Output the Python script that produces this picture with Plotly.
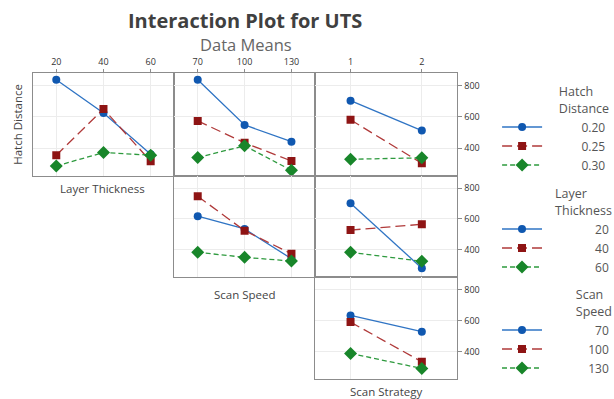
import plotly.graph_objects as go

# ---- data ----
layer_thickness = [20, 40, 60]
scan_speed = [70, 100, 130]
scan_strategy = [1, 2]

hatch_levels = ["0.20", "0.25", "0.30"]
layer_levels = ["20", "40", "60"]
speed_levels = ["70", "100", "130"]

# Row 1: Hatch Distance series
hd_vs_layer = [[837, 624, 361], [355, 650, 316], [286, 372, 355]]
hd_vs_speed = [[837, 548, 441], [574, 434, 318], [340, 415, 258]]
hd_vs_strategy = [[703, 512], [581, 303], [329, 338]]
# Row 2: Layer Thickness series
lt_vs_speed = [[618, 535, 341], [748, 524, 373], [383, 350, 326]]
lt_vs_strategy = [[703, 279], [528, 565], [383, 324]]
# Row 3: Scan Speed series
ss_vs_strategy = [[632, 527], [589, 333], [387, 290]]

y_ticks = [400, 600, 800]

# ---- styles ----
line_colors = ["#2f74c4", "#b03a3a", "#2e9a3e"]
marker_colors = ["#1058b0", "#8e1414", "#18862a"]
symbols = ["circle", "square", "diamond"]
sizes = [8, 8, 10]
dashes = ["solid", "10px,5px", "5px,3px"]

W, H = 614, 399
cols = [(33, 176), (176, 318), (318, 462)]
rows = [(73, 176), (176, 277), (277, 379)]

def xd(c):
    return [cols[c][0] / W, cols[c][1] / W]

def yd(r):
    return [1 - rows[r][1] / H, 1 - rows[r][0] / H]

panels = [
    (0, 0, layer_thickness, hd_vs_layer, hatch_levels, "legend"),
    (0, 1, scan_speed, hd_vs_speed, hatch_levels, "legend"),
    (0, 2, scan_strategy, hd_vs_strategy, hatch_levels, "legend"),
    (1, 1, scan_speed, lt_vs_speed, layer_levels, "legend2"),
    (1, 2, scan_strategy, lt_vs_strategy, layer_levels, "legend2"),
    (2, 2, scan_strategy, ss_vs_strategy, speed_levels, "legend3"),
]

xranges = {0: [10, 70], 1: [55, 145], 2: [0.5, 2.5]}
xtickvals = {0: layer_thickness, 1: scan_speed, 2: scan_strategy}

FS = "\u2007"  # figure space, used to right-align legend labels
def legend_label(s):
    return FS * (5 + (4 - len(s))) + s

fig = go.Figure()
layout = {}
shown = set()
for i, (r, c, xv, series, levels, leg) in enumerate(panels):
    n = i + 1
    xa = "x" if n == 1 else f"x{n}"
    ya = "y" if n == 1 else f"y{n}"
    for k, vals in enumerate(series):
        show = leg not in shown
        fig.add_trace(go.Scatter(
            x=xv, y=vals, xaxis=xa, yaxis=ya, mode="lines+markers",
            name=legend_label(levels[k]), legend=leg, showlegend=show,
            line=dict(color=line_colors[k], width=1.3, dash=dashes[k]),
            marker=dict(color=marker_colors[k], symbol=symbols[k], size=sizes[k],
                        line=dict(width=0)),
        ))
    shown.add(leg)
    axcommon = dict(showline=True, mirror=True, linecolor="#8c8c8c", linewidth=1,
                    showgrid=True, gridcolor="#ececec", gridwidth=1, zeroline=False)
    layout["xaxis" if n == 1 else f"xaxis{n}"] = dict(
        domain=xd(c), anchor=ya, range=xranges[c], tickvals=xtickvals[c],
        side="top", showticklabels=(r == 0), ticks="outside" if r == 0 else "",
        ticklen=3, tickcolor="#8c8c8c",
        tickfont=dict(size=9, color="#333333", family="Open Sans"), **axcommon)
    layout["yaxis" if n == 1 else f"yaxis{n}"] = dict(
        domain=yd(r), anchor=xa, range=[222, 880], tickvals=y_ticks,
        side="right", showticklabels=(c == 2), ticks="outside" if c == 2 else "",
        ticklen=4, tickcolor="#8c8c8c",
        tickfont=dict(size=9, color="#333333", family="Open Sans"), **axcommon)

legfont = dict(size=12, color="#555555", family="Open Sans")
legtitlefont = dict(size=12.5, color="#555555", family="Open Sans")
def legend_at(ytop, title):
    return dict(x=502 / W, xanchor="left", y=1 - ytop / H, yanchor="top",
                title=dict(text=title, side="top right", font=legtitlefont),
                font=legfont, bgcolor="rgba(0,0,0,0)", itemwidth=40,
                tracegroupgap=0, itemsizing="trace")

def label(text, x, y, size, color, angle=0):
    return dict(text=text, x=x / W, y=1 - y / H, xref="paper", yref="paper",
                xanchor="center", yanchor="middle", textangle=angle,
                showarrow=False, font=dict(size=size, color=color, family="Open Sans"))

annotations = [
    label("<b>Interaction Plot for UTS</b>", 247, 20, 20, "#404040"),
    label("Data Means", 248, 45, 16.5, "#666666"),
    label("Hatch Distance", 17, 124, 11.5, "#444444", -90),
    label("Layer Thickness", 104, 188, 11.5, "#444444"),
    label("Scan Speed", 247, 294, 11.5, "#444444"),
    label("Scan Strategy", 390, 391, 11.5, "#444444"),
]

fig.update_layout(
    width=W, height=H, margin=dict(l=0, r=0, t=0, b=0),
    paper_bgcolor="white", plot_bgcolor="white",
    annotations=annotations,
    legend=legend_at(80, "Hatch<br>Distance"),
    legend2=legend_at(182, "Layer<br>Thickness"),
    legend3=legend_at(283, "Scan<br>Speed"),
    **layout,
)

fig.write_html("out.html", config={"displayModeBar": False},
               post_script="document.body.style.margin='0px';")
